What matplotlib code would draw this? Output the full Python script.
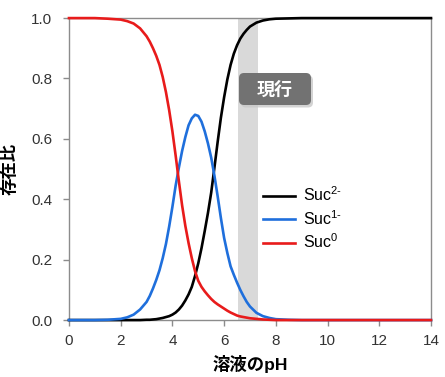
"""
Succinate speciation vs. pH (存在比), with the current operating pH band.
Writes out.png (445x377).
"""
import matplotlib

matplotlib.use("Agg")
import matplotlib.pyplot as plt
from matplotlib.patches import FancyBboxPatch

# ---- data ----
ph = [0, 0.5, 1.0, 1.5, 2.0, 2.25, 2.5, 2.75,
      3.0, 3.125, 3.25, 3.375, 3.5, 3.625, 3.75, 3.875, 4.0, 4.125, 4.25,
      4.375, 4.5, 4.625, 4.75, 4.875, 5.0, 5.125, 5.25, 5.375, 5.5, 5.625,
      5.75, 5.875, 6.0, 6.125, 6.25, 6.375, 6.5, 6.625, 6.75, 6.875, 7.0,
      7.25, 7.5, 7.75, 8.0, 8.5, 9.0, 10, 11, 12, 13, 14]

suc0 = [1.000, 1.000, 1.000, 0.998, 0.995, 0.990, 0.982, 0.966,
        0.940, 0.922, 0.900, 0.875, 0.845, 0.805, 0.755, 0.695, 0.625, 0.545,
        0.460, 0.380, 0.312, 0.255, 0.205, 0.162, 0.130, 0.110, 0.095, 0.082,
        0.070, 0.060, 0.052, 0.045, 0.038, 0.031, 0.025, 0.020, 0.015, 0.012,
        0.010, 0.008, 0.006,
        0.004, 0.002, 0.001, 0.000, 0, 0, 0, 0, 0, 0, 0]

suc1 = [0.000, 0.000, 0.000, 0.001, 0.004, 0.009, 0.018, 0.035,
        0.060, 0.080, 0.105, 0.133, 0.165, 0.205, 0.252, 0.310, 0.375, 0.445,
        0.505, 0.560, 0.606, 0.645, 0.668, 0.680, 0.676, 0.657, 0.625, 0.585,
        0.538, 0.478, 0.410, 0.338, 0.272, 0.222, 0.178, 0.150, 0.124, 0.100,
        0.079, 0.060, 0.045,
        0.024, 0.013, 0.007, 0.003, 0.001, 0, 0, 0, 0, 0, 0]

suc2 = [0.000, 0.000, 0.000, 0.000, 0.000, 0.000, 0.000, 0.000,
        0.001, 0.001, 0.002, 0.003, 0.005, 0.007, 0.010, 0.013, 0.018, 0.025,
        0.035, 0.048, 0.065, 0.085, 0.110, 0.146, 0.188, 0.238, 0.295, 0.355,
        0.422, 0.505, 0.590, 0.670, 0.738, 0.797, 0.845, 0.882, 0.910, 0.932,
        0.948, 0.961, 0.972,
        0.985, 0.992, 0.996, 0.998, 0.999, 1, 1, 1, 1, 1, 1]

series_labels = ["Suc$^{2\\text{-}}$", "Suc$^{1\\text{-}}$", "Suc$^{0}$"]
series_colors = ["#000000", "#1f6fdc", "#e81b1b"]

current_band = (6.55, 7.3)   # 現行 operating range
band_label = "現行"

x_ticks = [0, 2, 4, 6, 8, 10, 12, 14]
y_ticks = [0.0, 0.2, 0.4, 0.6, 0.8, 1.0]

plt.rcParams["font.family"] = ["Liberation Sans", "Noto Sans CJK JP", "DejaVu Sans"]
plt.rcParams["mathtext.fontset"] = "custom"
plt.rcParams["mathtext.rm"] = "Liberation Sans"
plt.rcParams["mathtext.default"] = "regular"

SPINE = "#8c8c8c"


def draw_badge(fig, text):
    # rounded grey label with a soft drop shadow, placed in inches
    x0, y0, w, h = 2.39, 2.72, 0.72, 0.32
    shadow = FancyBboxPatch((x0 + 0.02, y0 - 0.025), w, h,
                            boxstyle="round,pad=0,rounding_size=0.05",
                            transform=fig.dpi_scale_trans,
                            fc="#c8c8c8", ec="none", alpha=0.8, zorder=5)
    box = FancyBboxPatch((x0, y0), w, h,
                         boxstyle="round,pad=0,rounding_size=0.05",
                         transform=fig.dpi_scale_trans,
                         fc="#727272", ec="none", zorder=6)
    fig.add_artist(shadow)
    fig.add_artist(box)
    fig.text(x0 + w / 2, y0 + h / 2 - 0.01, text, transform=fig.dpi_scale_trans,
             ha="center", va="center", color="white", fontsize=13,
             fontweight="bold", family=["Noto Sans CJK JP"], zorder=7)


def main():
    assert len(ph) == len(suc0) == len(suc1) == len(suc2)

    fig = plt.figure(figsize=(4.45, 3.77), dpi=100)
    ax = fig.add_axes([0.155, 0.151, 0.8135, 0.801])

    ax.axvspan(*current_band, color="#d9d9d9", lw=0, zorder=1)

    for vals, lab, col in zip([suc2, suc1, suc0], series_labels, series_colors):
        ax.plot(ph, vals, color=col, lw=1.9, label=lab, zorder=3,
                clip_on=False, solid_joinstyle="round")

    ax.set_xlim(0, 14)
    ax.set_ylim(0, 1)
    ax.set_xticks(x_ticks)
    ax.set_yticks(y_ticks)
    ax.set_yticklabels([f"{v:.1f}" for v in y_ticks])

    for s in ax.spines.values():
        s.set_color(SPINE)
        s.set_linewidth(1.0)
    ax.tick_params(axis="both", direction="out", length=4, width=1.0,
                   color=SPINE, labelsize=11, labelcolor="#333333")
    ax.tick_params(axis="y", pad=8)
    ax.tick_params(axis="x", pad=6)

    ax.set_xlabel("溶液のpH", fontsize=12.5, fontweight="bold", labelpad=5)
    ax.set_ylabel("存在比", fontsize=12.5, fontweight="bold", labelpad=10)

    ax.legend(loc="upper left", bbox_to_anchor=(0.535, 0.445), frameon=False,
              fontsize=11.5, handlelength=2.0, handletextpad=0.5,
              labelspacing=0.3, borderaxespad=0, borderpad=0)

    draw_badge(fig, band_label)

    fig.savefig("out.png", dpi=100)
    plt.close(fig)


if __name__ == "__main__":
    main()
